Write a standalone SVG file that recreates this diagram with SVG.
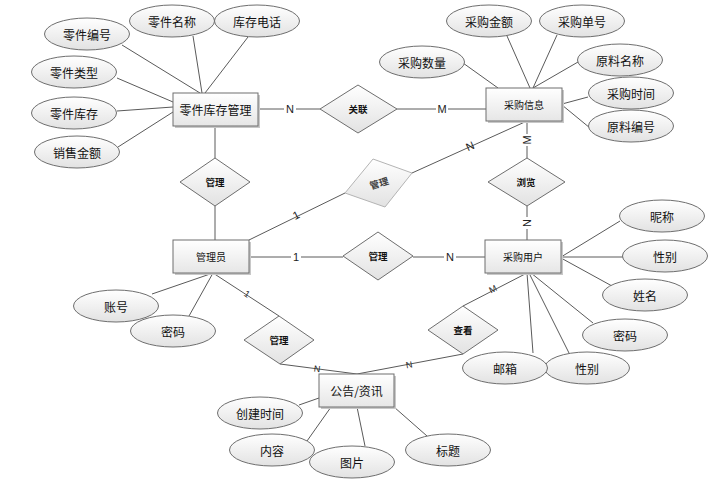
<svg xmlns="http://www.w3.org/2000/svg" width="723" height="488" viewBox="0 0 723 488">
<defs>
<linearGradient id="gE" x1="0" y1="0" x2="0" y2="1"><stop offset="0" stop-color="#ffffff"/><stop offset="1" stop-color="#e2e2e2"/></linearGradient>
<linearGradient id="gR" x1="0" y1="0" x2="0" y2="1"><stop offset="0" stop-color="#ffffff"/><stop offset="1" stop-color="#e6e6e6"/></linearGradient>
</defs>
<style>
.bg{fill:#ffffff}
.ln{stroke:#5a5a5a;stroke-width:1;fill:none}
.el{fill:url(#gE);stroke:#6e6e6e;stroke-width:1}
.rc{fill:url(#gR);stroke:#6e6e6e;stroke-width:1}
.sh{fill:#c8c8c8}
.dm{fill:url(#gE);stroke:#6e6e6e;stroke-width:1}
.dmg{fill:url(#gE);stroke:#b4b4b4;stroke-width:1}
.t{font-family:"Noto Sans CJK SC","Liberation Sans",sans-serif;font-size:12px;fill:#111;text-anchor:middle;dominant-baseline:central}
.ts{font-family:"Noto Sans CJK SC","Liberation Sans",sans-serif;font-size:10px;fill:#111;text-anchor:middle;dominant-baseline:central}
.td{font-family:"Noto Sans CJK SC","Liberation Sans",sans-serif;font-size:9.5px;font-weight:bold;fill:#111;text-anchor:middle;dominant-baseline:central}
.lb{font-family:"Liberation Sans",Arial,sans-serif;font-size:11px;fill:#222;text-anchor:middle;dominant-baseline:central}
.lbs{font-family:"Liberation Sans",Arial,sans-serif;font-size:9px;fill:#222;text-anchor:middle;dominant-baseline:central}
.lbk{fill:#ffffff}
</style>
<rect class="bg" x="0" y="0" width="723" height="488"/>
<g id="connectors">
<line class="ln" x1="122" y1="45" x2="200" y2="93"/>
<line class="ln" x1="193" y1="36" x2="202" y2="93"/>
<line class="ln" x1="248" y1="37" x2="205" y2="93"/>
<line class="ln" x1="117" y1="78" x2="173" y2="102"/>
<line class="ln" x1="117" y1="111" x2="173" y2="107"/>
<line class="ln" x1="118" y1="147" x2="173" y2="112"/>
<line class="ln" x1="258" y1="109" x2="320" y2="109"/>
<line class="ln" x1="397" y1="109" x2="486" y2="109"/>
<line class="ln" x1="215" y1="126" x2="215" y2="158"/>
<line class="ln" x1="215" y1="206" x2="215" y2="240"/>
<line class="ln" x1="463" y1="63" x2="498" y2="88"/>
<line class="ln" x1="507" y1="36" x2="530" y2="88"/>
<line class="ln" x1="557" y1="35" x2="533" y2="88"/>
<line class="ln" x1="578" y1="62" x2="533" y2="88"/>
<line class="ln" x1="588" y1="97" x2="562" y2="104"/>
<line class="ln" x1="590" y1="128" x2="562" y2="105"/>
<line class="ln" x1="527" y1="121" x2="527" y2="158"/>
<line class="ln" x1="527" y1="206" x2="527" y2="240"/>
<line class="ln" x1="412" y1="173" x2="527" y2="121"/>
<line class="ln" x1="249" y1="240" x2="345" y2="193"/>
<line class="ln" x1="249" y1="257" x2="343" y2="257"/>
<line class="ln" x1="413" y1="257" x2="485" y2="257"/>
<line class="ln" x1="620" y1="221" x2="561" y2="257"/>
<line class="ln" x1="623" y1="257" x2="561" y2="257"/>
<line class="ln" x1="612" y1="286" x2="561" y2="258"/>
<line class="ln" x1="593" y1="323" x2="531" y2="273"/>
<line class="ln" x1="533" y1="353" x2="527" y2="273"/>
<line class="ln" x1="569" y1="353" x2="529" y2="273"/>
<line class="ln" x1="527" y1="273" x2="463" y2="306"/>
<line class="ln" x1="463" y1="354" x2="357" y2="374"/>
<line class="ln" x1="152" y1="294" x2="213" y2="273"/>
<line class="ln" x1="189" y1="316" x2="213" y2="273"/>
<line class="ln" x1="213" y1="273" x2="279" y2="316"/>
<line class="ln" x1="280" y1="364" x2="357" y2="374"/>
<line class="ln" x1="299" y1="405" x2="319" y2="398"/>
<line class="ln" x1="307" y1="441" x2="331" y2="407"/>
<line class="ln" x1="365" y1="446" x2="357" y2="407"/>
<line class="ln" x1="427" y1="436" x2="394" y2="407"/>
<g id="labels">
<rect class="lbk" x="284" y="103" width="12" height="12"/><text class="lb" x="290" y="109">N</text>
<rect class="lbk" x="436" y="103" width="12" height="12"/><text class="lb" x="442" y="109">M</text>
<rect class="lbk" x="521" y="134" width="12" height="12"/><text class="lb" x="527" y="140" transform="rotate(-90 527 140)">M</text>
<rect class="lbk" x="521" y="217" width="12" height="12"/><text class="lb" x="527" y="223" transform="rotate(-90 527 223)">N</text>
<text class="lb" x="470" y="146" transform="rotate(-24 470 146)">N</text>
<text class="lb" x="296" y="215" transform="rotate(-26 296 215)">1</text>
<rect class="lbk" x="291" y="251" width="10" height="12"/><text class="lb" x="296" y="257">1</text>
<rect class="lbk" x="444" y="251" width="12" height="12"/><text class="lb" x="450" y="257">N</text>
<text class="lbs" x="493" y="289" transform="rotate(-27 493 289)">M</text>
<text class="lbs" x="409" y="365" transform="rotate(-11 409 365)">N</text>
<text class="lbs" x="247" y="294" transform="rotate(33 247 294)">1</text>
<text class="lbs" x="317" y="369" transform="rotate(7 317 369)">N</text>
</g>
</g>
<g id="e-part">
<rect class="sh" x="175" y="95" width="85" height="33"/>
<rect class="rc" x="173" y="93" width="85" height="33"/>
<text class="t" x="215.5" y="109.5">零件库存管理</text>
</g>
<g id="e-purchase-info">
<rect class="sh" x="488" y="90" width="76" height="33"/>
<rect class="rc" x="486" y="88" width="76" height="33"/>
<text class="ts" x="524" y="104.5">采购信息</text>
</g>
<g id="e-admin">
<rect class="sh" x="175" y="242" width="76" height="33"/>
<rect class="rc" x="173" y="240" width="76" height="33"/>
<text class="ts" x="211" y="256.5">管理员</text>
</g>
<g id="e-user">
<rect class="sh" x="487" y="242" width="76" height="33"/>
<rect class="rc" x="485" y="240" width="76" height="33"/>
<text class="ts" x="523" y="256.5">采购用户</text>
</g>
<g id="e-notice">
<rect class="sh" x="321" y="376" width="75" height="33"/>
<rect class="rc" x="319" y="374" width="75" height="33"/>
<text class="t" x="356.5" y="390.5">公告/资讯</text>
</g>
<g id="r-guanlian"><polygon class="dm" points="320,109 358,85 397,109 358,133"/><text class="td" x="358" y="109">关联</text></g>
<g id="r-guanli1"><polygon class="dm" points="180,182 215,158 250,182 215,206"/><text class="td" x="215" y="182">管理</text></g>
<g id="r-guanli-gray"><polygon class="dmg" points="373,159 412,173 385,207 345,193"/><text class="td" x="379" y="183" fill="#444" style="fill:#444" transform="rotate(-17 379 183)">管理</text></g>
<g id="r-guanli2"><polygon class="dm" points="343,256 378,232 413,256 378,280"/><text class="td" x="378" y="256">管理</text></g>
<g id="r-liulan"><polygon class="dm" points="488,182 527,158 565,182 527,206"/><text class="td" x="526" y="182">浏览</text></g>
<g id="r-chakan"><polygon class="dm" points="428,330 463,306 498,330 463,354"/><text class="td" x="463" y="330">查看</text></g>
<g id="r-guanli3"><polygon class="dm" points="244,340 279,316 314,340 280,364"/><text class="td" x="279" y="340">管理</text></g>
<g id="a-ljbh"><ellipse class="el" cx="87" cy="34" rx="42.5" ry="16"/><text class="t" x="87" y="34">零件编号</text></g>
<g id="a-ljmc"><ellipse class="el" cx="172" cy="21" rx="42.5" ry="16"/><text class="t" x="172" y="21">零件名称</text></g>
<g id="a-kcdh"><ellipse class="el" cx="257" cy="21" rx="42.5" ry="16"/><text class="t" x="257" y="21">库存电话</text></g>
<g id="a-ljlx"><ellipse class="el" cx="74" cy="72" rx="42.5" ry="16"/><text class="t" x="74" y="72">零件类型</text></g>
<g id="a-ljkc"><ellipse class="el" cx="74" cy="113" rx="42.5" ry="16"/><text class="t" x="74" y="113">零件库存</text></g>
<g id="a-xsje"><ellipse class="el" cx="77" cy="152" rx="42.5" ry="16"/><text class="t" x="77" y="152">销售金额</text></g>
<g id="a-cgje"><ellipse class="el" cx="489" cy="21" rx="42.5" ry="16"/><text class="t" x="489" y="21">采购金额</text></g>
<g id="a-cgdh"><ellipse class="el" cx="582" cy="21" rx="42.5" ry="16"/><text class="t" x="582" y="21">采购单号</text></g>
<g id="a-cgsl"><ellipse class="el" cx="422" cy="62" rx="42.5" ry="16"/><text class="t" x="422" y="62">采购数量</text></g>
<g id="a-ylmc"><ellipse class="el" cx="620" cy="60" rx="42.5" ry="16"/><text class="t" x="620" y="60">原料名称</text></g>
<g id="a-cgsj"><ellipse class="el" cx="631" cy="93" rx="42.5" ry="16"/><text class="t" x="631" y="93">采购时间</text></g>
<g id="a-ylbh"><ellipse class="el" cx="631" cy="126" rx="42.5" ry="16"/><text class="t" x="631" y="126">原料编号</text></g>
<g id="a-nc"><ellipse class="el" cx="662" cy="216" rx="42.5" ry="16"/><text class="t" x="662" y="216">昵称</text></g>
<g id="a-xb1"><ellipse class="el" cx="665" cy="256" rx="42.5" ry="16"/><text class="t" x="665" y="256">性别</text></g>
<g id="a-xm"><ellipse class="el" cx="645" cy="295" rx="42.5" ry="16"/><text class="t" x="645" y="295">姓名</text></g>
<g id="a-mm1"><ellipse class="el" cx="625" cy="335" rx="42.5" ry="16"/><text class="t" x="625" y="335">密码</text></g>
<g id="a-xb2"><ellipse class="el" cx="587" cy="368" rx="42.5" ry="16"/><text class="t" x="587" y="368">性别</text></g>
<g id="a-yx"><ellipse class="el" cx="505" cy="368" rx="42.5" ry="16"/><text class="t" x="505" y="368">邮箱</text></g>
<g id="a-zh"><ellipse class="el" cx="116" cy="306" rx="42.5" ry="16"/><text class="t" x="116" y="306">账号</text></g>
<g id="a-mm2"><ellipse class="el" cx="173" cy="331" rx="42.5" ry="16"/><text class="t" x="173" y="331">密码</text></g>
<g id="a-cjsj"><ellipse class="el" cx="260" cy="413" rx="42.5" ry="16"/><text class="t" x="260" y="413">创建时间</text></g>
<g id="a-nr"><ellipse class="el" cx="272" cy="450" rx="42.5" ry="16"/><text class="t" x="272" y="450">内容</text></g>
<g id="a-tp"><ellipse class="el" cx="352" cy="462" rx="42.5" ry="16"/><text class="t" x="352" y="462">图片</text></g>
<g id="a-bt"><ellipse class="el" cx="448" cy="450" rx="42.5" ry="16"/><text class="t" x="448" y="450">标题</text></g>
</svg>
